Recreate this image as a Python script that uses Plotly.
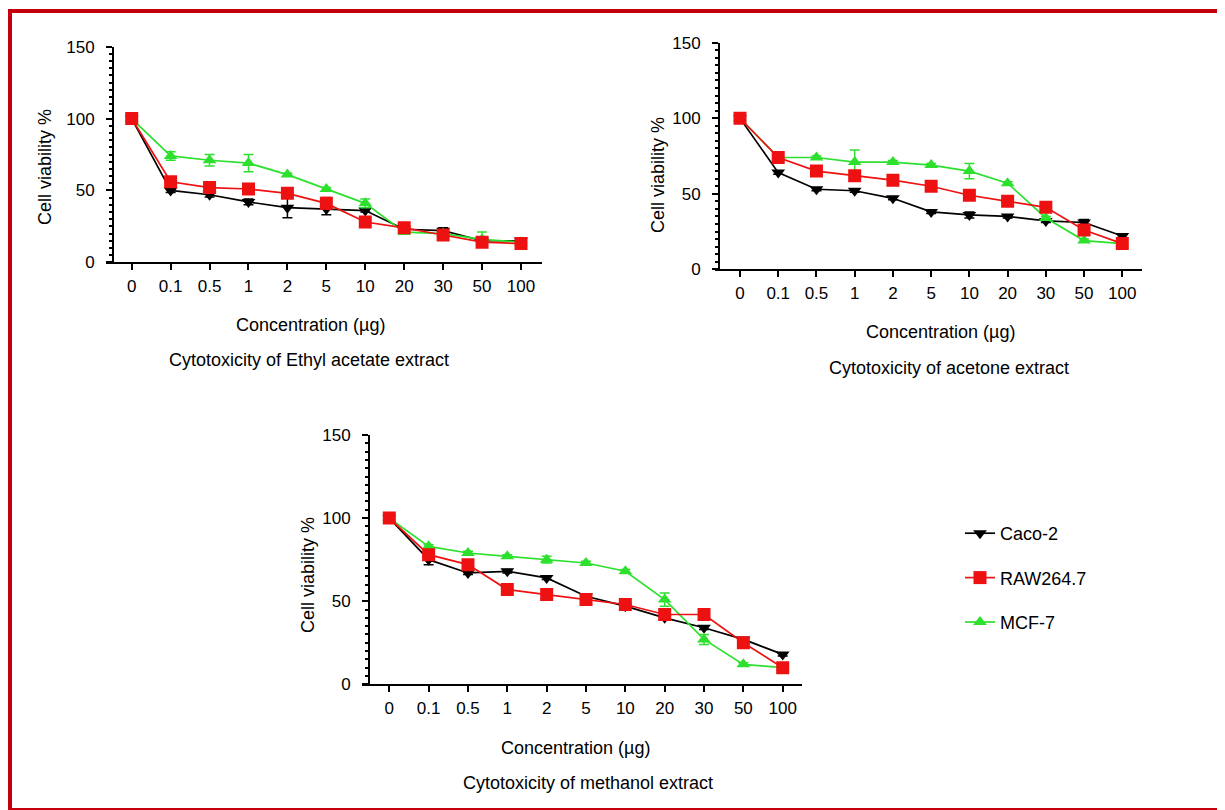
import plotly.graph_objects as go

# the page body adds an 8px margin, so the figure is drawn 8px in from the window corner
OFF = 8
W, H = 1225 - OFF, 810 - OFF

categories = ["0", "0.1", "0.5", "1", "2", "5", "10", "20", "30", "50", "100"]
series_names = ["Caco-2", "RAW264.7", "MCF-7"]

# Ethyl acetate extract
ea_caco2 = [100, 50, 47, 42, 38, 37, 36, 23, 22, 15, 15]
ea_raw = [100, 56, 52, 51, 48, 41, 28, 24, 19, 14, 13]
ea_mcf7 = [100, 74, 71, 69, 61, 51, 41, 21, 20, 16, 14]
ea_caco2_err = [0, 1.5, 1.5, 2, 7, 4, 1, 1, 2, 1, 1]
ea_raw_err = [0, 1, 1, 1, 1, 4, 1, 1, 1, 1, 1]
ea_mcf7_err = [0, 3, 4, 6, 1, 1, 3, 1, 1, 5, 1]

# Acetone extract
ac_caco2 = [100, 64, 53, 52, 47, 38, 36, 35, 32, 31, 22]
ac_raw = [100, 74, 65, 62, 59, 55, 49, 45, 41, 26, 17]
ac_mcf7 = [100, 74, 74, 71, 71, 69, 65, 57, 34, 19, 17]
ac_caco2_err = [0, 1, 1, 1, 1, 1, 2, 1, 1, 2, 1]
ac_raw_err = [0, 1, 1, 2, 1, 1, 1, 1, 1, 1, 1]
ac_mcf7_err = [0, 1, 1, 8, 1, 1, 5, 1, 1, 1, 1]

# Methanol extract
me_caco2 = [100, 75, 67, 68, 64, 53, 47, 40, 34, 27, 18]
me_raw = [100, 78, 72, 57, 54, 51, 48, 42, 42, 25, 10]
me_mcf7 = [100, 83, 79, 77, 75, 73, 68, 51, 27, 12, 10]
me_caco2_err = [0, 3, 1, 1, 1, 1, 1, 1, 1, 1, 1]
me_raw_err = [0, 1, 1, 1, 1, 1, 1, 1, 1, 1, 1]
me_mcf7_err = [0, 1, 1, 1, 2, 1, 1, 4, 3, 1, 1]

y_tick_vals = [0, 50, 100, 150]
x_title = "Concentration (µg)"
y_title = "Cell viability %"
captions = ["Cytotoxicity of Ethyl acetate extract",
            "Cytotoxicity of acetone extract",
            "Cytotoxicity of methanol extract"]

FONT = "Liberation Sans, Arial, sans-serif"
FS_TICK = 17
FS_TEXT = 18
colors = {"Caco-2": "#000000", "RAW264.7": "#ee1111", "MCF-7": "#2ee02e"}
symbols = {"Caco-2": "triangle-down", "RAW264.7": "square", "MCF-7": "triangle-up"}
sizes = {"Caco-2": 12, "RAW264.7": 13, "MCF-7": 12}
ranks = {"Caco-2": 1, "RAW264.7": 2, "MCF-7": 3}


def px(x):
    return (x - OFF) / W


def py(y):
    return 1 - (y - OFF) / H


panels = [
    dict(xl=106, xr=542, ya=113, y0=262.3, y150=46.7, c0=131.7, c10=521.0,
         data=[ea_caco2, ea_raw, ea_mcf7], err=[ea_caco2_err, ea_raw_err, ea_mcf7_err],
         ytitle=(45, 167), xtitle=(310, 325), cap=(309, 360)),
    dict(xl=715, xr=1142, ya=719, y0=269.3, y150=42.7, c0=740.0, c10=1122.3,
         data=[ac_caco2, ac_raw, ac_mcf7], err=[ac_caco2_err, ac_raw_err, ac_mcf7_err],
         ytitle=(658, 175), xtitle=(940, 332), cap=(949, 368)),
    dict(xl=362, xr=802, ya=369, y0=684.3, y150=435.0, c0=389.3, c10=782.7,
         data=[me_caco2, me_raw, me_mcf7], err=[me_caco2_err, me_raw_err, me_mcf7_err],
         ytitle=(308, 575), xtitle=(575, 748), cap=(588, 783)),
]

fig = go.Figure()
layout = {}
annotations = []


def label(x, y, text, angle=0):
    return dict(x=px(x), y=py(y), xref="paper", yref="paper", xanchor="center",
                yanchor="middle", text=text, textangle=angle, showarrow=False,
                font=dict(family=FONT, size=FS_TEXT, color="black"))


for i, p in enumerate(panels):
    n = "" if i == 0 else str(i + 1)
    xa, ya = "x" + n, "y" + n
    unit = (p["c10"] - p["c0"]) / 10.0
    r0 = -(p["c0"] - p["xl"]) / unit
    r1 = 10 + (p["xr"] - p["c10"]) / unit
    layout["xaxis" + n] = dict(
        domain=[px(p["xl"]), px(p["xr"])], anchor=ya, type="category",
        range=[r0, r1], showline=True, linecolor="black", linewidth=2,
        ticks="outside", ticklen=6, tickwidth=2, tickcolor="black",
        showgrid=False, zeroline=False, ticklabelstandoff=1, automargin=False,
        tickfont=dict(family=FONT, size=FS_TICK, color="black"),
        categoryorder="array", categoryarray=categories,
    )
    layout["yaxis" + n] = dict(
        domain=[py(p["y0"]), py(p["y150"])], anchor="free", position=px(p["ya"]),
        range=[0, 150], tickvals=y_tick_vals, showline=True, linecolor="black",
        linewidth=2, ticks="outside", ticklen=6, tickwidth=2, tickcolor="black",
        minor=dict(dtick=5, ticks="outside", ticklen=3, tickwidth=1.5, tickcolor="black"),
        showgrid=False, zeroline=False, ticklabelstandoff=8, automargin=False,
        tickfont=dict(family=FONT, size=FS_TICK, color="black"),
    )
    order = [0, 2, 1]  # draw red on top
    for k in order:
        name = series_names[k]
        fig.add_trace(go.Scatter(
            x=categories, y=p["data"][k], xaxis=xa, yaxis=ya, name=name,
            mode="lines+markers",
            line=dict(color=colors[name], width=1.7),
            marker=dict(symbol=symbols[name], size=sizes[name], color=colors[name]),
            error_y=dict(type="data", array=p["err"][k], color=colors[name],
                         thickness=1.5, width=5),
            showlegend=(i == 0), legendgroup=name, legendrank=ranks[name],
        ))
    annotations.append(label(p["ytitle"][0], p["ytitle"][1], y_title, -90))
    annotations.append(label(p["xtitle"][0], p["xtitle"][1], x_title))
    annotations.append(label(p["cap"][0], p["cap"][1], captions[i]))

border = "#c4000c"
shapes = [
    dict(type="rect", xref="paper", yref="paper", x0=px(8), x1=1, y0=py(13), y1=py(9),
         fillcolor=border, line=dict(width=0)),
    dict(type="rect", xref="paper", yref="paper", x0=px(8), x1=px(12), y0=0, y1=py(9),
         fillcolor=border, line=dict(width=0)),
    dict(type="rect", xref="paper", yref="paper", x0=px(8), x1=1, y0=0, y1=py(808),
         fillcolor=border, line=dict(width=0)),
]

fig.update_layout(
    width=W, height=H, margin=dict(l=0, r=0, t=0, b=0, autoexpand=False),
    paper_bgcolor="white", plot_bgcolor="white",
    annotations=annotations, shapes=shapes,
    legend=dict(x=px(960), y=py(515), xanchor="left", yanchor="top",
                font=dict(family=FONT, size=FS_TEXT, color="black"),
                tracegroupgap=18, bgcolor="rgba(0,0,0,0)"),
    **layout,
)

fig.write_html("out.html")
